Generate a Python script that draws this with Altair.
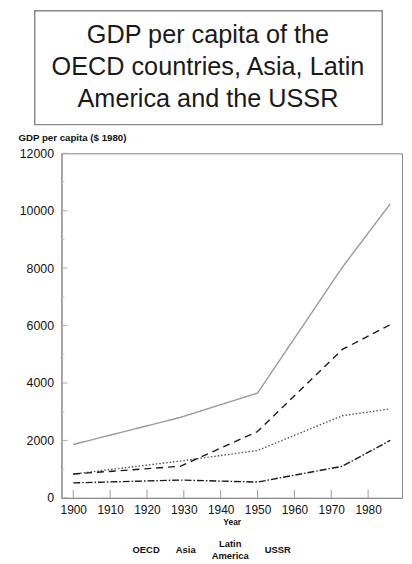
import altair as alt
import pandas as pd

# ---- data ----
years = [1900, 1929, 1950, 1973, 1986]
oecd = [1860, 2800, 3650, 8030, 10240]
asia = [520, 620, 550, 1100, 2000]
latin_america = [830, 1280, 1650, 2860, 3100]
ussr = [830, 1100, 2310, 5170, 6030]

series_names = ["OECD", "Asia", "Latin America", "USSR"]
series_values = [oecd, asia, latin_america, ussr]

y_ticks_major = [0, 2000, 4000, 6000, 8000, 10000, 12000]
y_ticks_minor = [1000, 3000, 5000, 7000, 9000, 11000]
x_ticks = [1900, 1910, 1920, 1930, 1940, 1950, 1960, 1970, 1980]

title_lines = "GDP per capita of the\nOECD countries, Asia, Latin\nAmerica and the USSR"

rows = []
for name, vals in zip(series_names, series_values):
    for yr, v in zip(years, vals):
        rows.append({"Year": yr, "GDP": v, "Region": name})
df = pd.DataFrame(rows)

W, H = 344, 348
FONT = "Liberation Sans"

xscale = alt.Scale(domain=[1896.8, 1989.2], nice=False, zero=False)
yscale = alt.Scale(domain=[0, 12000], nice=False)

colors = ["#9a9a9a", "#1a1a1a", "#555555", "#1a1a1a"]
dashes = [[1, 0], [7, 2, 1.5, 2], [1.5, 2], [7, 5]]

lines = alt.Chart(df).mark_line(strokeWidth=1.4).encode(
    x=alt.X("Year:Q", scale=xscale,
            axis=alt.Axis(values=x_ticks, format="d", title="Year", ticks=False,
                          labelPadding=7, labelFontSize=12, labelColor="#111",
                          titleFontSize=8.5, titleFontWeight="bold", titlePadding=2,
                          titleColor="#111", domainColor="#888", grid=False)),
    y=alt.Y("GDP:Q", scale=yscale,
            axis=alt.Axis(values=y_ticks_major, format="d", title="GDP per capita ($ 1980)",
                          ticks=False, labelPadding=8, labelFontSize=12.5, labelColor="#111",
                          titleAngle=0, titleAlign="left", titleBaseline="middle",
                          titleX=-44, titleY=-16, titleFontSize=9.8, titleFontWeight="bold",
                          titleColor="#111", domainColor="#888", grid=False)),
    color=alt.Color("Region:N", sort=series_names,
                    scale=alt.Scale(domain=series_names, range=colors),
                    legend=alt.Legend(title=None, orient="none", direction="horizontal",
                                      legendX=76, legendY=390,
                                      symbolOpacity=0, symbolSize=1, symbolStrokeWidth=0,
                                      labelFontSize=9.5, labelFontWeight="bold", labelColor="#111",
                                      labelOffset=0, columnPadding=15, labelAlign="center",
                                      labelBaseline="middle",
                                      labelExpr="datum.label == 'Latin America' ? ['Latin', 'America'] : datum.label")),
    strokeDash=alt.StrokeDash("Region:N", sort=series_names,
                              scale=alt.Scale(domain=series_names, range=dashes),
                              legend=None),
)

ymaj = alt.Chart(pd.DataFrame({"v": y_ticks_major})).mark_rule(color="#aaa", strokeWidth=1).encode(
    y=alt.Y("v:Q", scale=yscale), x=alt.value(0), x2=alt.value(6))
ymin = alt.Chart(pd.DataFrame({"v": y_ticks_minor})).mark_rule(color="#bbb", strokeWidth=1).encode(
    y=alt.Y("v:Q", scale=yscale), x=alt.value(0), x2=alt.value(3))
xt = alt.Chart(pd.DataFrame({"v": x_ticks})).mark_rule(color="#999", strokeWidth=1).encode(
    x=alt.X("v:Q", scale=xscale), y=alt.value(H), y2=alt.value(H - 8))

box = alt.Chart(pd.DataFrame({"a": [0]})).mark_rect(
    fill="white", stroke="#8a8a8a", strokeWidth=1.5).encode(
    x=alt.value(-27), x2=alt.value(324), y=alt.value(-144), y2=alt.value(-29))

title = alt.Chart(pd.DataFrame({"t": [title_lines]})).mark_text(
    font=FONT, fontSize=25.5, lineHeight=32, align="center", baseline="middle",
    lineBreak="\n", color="#1a1a1a").encode(
    x=alt.value(148), y=alt.value(-119), text="t:N")

chart = alt.layer(box, title, ymin, ymaj, xt, lines).properties(
    width=W, height=H,
    autosize=alt.AutoSizeParams(type="none"),
    padding={"left": 54, "top": 144, "right": 2, "bottom": 62},
).configure(font=FONT).configure_view(stroke="#888", strokeWidth=1)

chart.save("out.html", embed_options={"renderer": "svg", "actions": False})
